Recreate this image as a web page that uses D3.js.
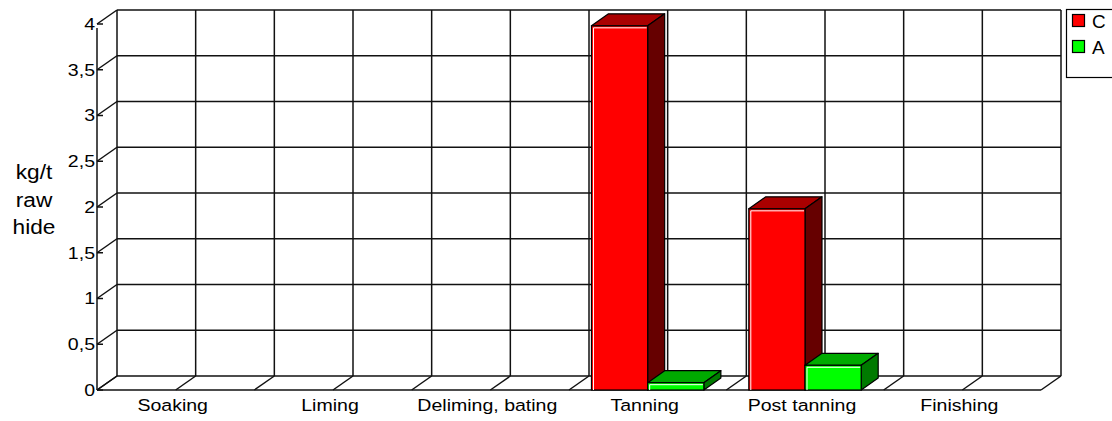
<!DOCTYPE html>
<html>
<head>
<meta charset="utf-8">
<script src="https://cdn.jsdelivr.net/npm/d3@7"></script>
<style>
  body { margin: 0; background: #fff; }
  svg { display: block; font-family: "Liberation Sans", Arial, sans-serif; }
</style>
</head>
<body>
<svg id="chart" width="1112" height="421"></svg>
<script>
// data
var categories = ["Soaking", "Liming", "Deliming, bating", "Tanning", "Post tanning", "Finishing"];
var seriesNames = ["C", "A"];
var valuesC = [0, 0, 0, 3.98, 1.98, 0];
var valuesA = [0, 0, 0, 0.08, 0.27, 0];
var yTicks = [0, 0.5, 1, 1.5, 2, 2.5, 3, 3.5, 4];
var axisTitle = ["kg/t", "raw", "hide"];

var colors = {
  C: { front: "#ff0000", top: "#aa0000", side: "#660000" },
  A: { front: "#00ff00", top: "#00aa00", side: "#007a00" }
};

var svg = d3.select("#chart");
var stretch = 1.15; // text in the picture is a bit wide

// floor depth and bar depth offsets
var depth = { dx: 20, dy: -14 };
var barDepth = { dx: 17, dy: -12 };

var x0 = d3.scaleBand().domain(categories).range([97, 1041]);
var x1 = d3.scaleBand().domain(seriesNames).range([0, x0.bandwidth()])
  .paddingInner(0).paddingOuter(0.4);
var y = d3.scaleLinear().domain([0, 4]).range([390, 24]);

var grid = svg.append("g").attr("stroke", "#111").attr("stroke-width", 1.5).attr("fill", "none");

// back wall horizontal gridlines
grid.selectAll(".hgrid")
  .data(yTicks)
  .enter()
  .append("line")
  .attr("x1", x0.range()[0] + depth.dx)
  .attr("x2", x0.range()[1] + depth.dx)
  .attr("y1", d => y(d) + depth.dy)
  .attr("y2", d => y(d) + depth.dy);

// left diagonals from the front axis to the wall
grid.selectAll(".ldiag")
  .data(yTicks)
  .enter()
  .append("line")
  .attr("x1", x0.range()[0])
  .attr("x2", x0.range()[0] + depth.dx)
  .attr("y1", d => y(d))
  .attr("y2", d => y(d) + depth.dy);

// vertical gridlines at every half category
var halfSteps = d3.range(0, categories.length * 2 + 1);
var halfX = i => x0.range()[0] + i * x0.bandwidth() / 2;
grid.selectAll(".vgrid")
  .data(halfSteps)
  .enter()
  .append("line")
  .attr("x1", i => halfX(i) + depth.dx)
  .attr("x2", i => halfX(i) + depth.dx)
  .attr("y1", y(0) + depth.dy)
  .attr("y2", y(4) + depth.dy);

// floor diagonals
grid.selectAll(".fdiag")
  .data(halfSteps)
  .enter()
  .append("line")
  .attr("x1", i => halfX(i))
  .attr("x2", i => halfX(i) + depth.dx)
  .attr("y1", y(0))
  .attr("y2", y(0) + depth.dy);

// front floor edge and front value axis
grid.append("line")
  .attr("x1", x0.range()[0]).attr("x2", x0.range()[1])
  .attr("y1", y(0)).attr("y2", y(0));
grid.append("line")
  .attr("x1", x0.range()[0]).attr("x2", x0.range()[0])
  .attr("y1", y(0)).attr("y2", y(4) + 4);

// tick dashes
grid.selectAll(".tick")
  .data(yTicks)
  .enter()
  .append("line")
  .attr("x1", x0.range()[0]).attr("x2", x0.range()[0] + 6)
  .attr("y1", d => y(d)).attr("y2", d => y(d));

// y tick labels
svg.append("g")
  .selectAll("text")
  .data(yTicks)
  .enter()
  .append("text")
  .attr("transform", d => `translate(95,${y(d)}) scale(${stretch},1)`)
  .attr("dy", "0.35em")
  .attr("text-anchor", "end")
  .style("font-size", "17px")
  .text(d => String(d).replace(".", ","));

// bars
function drawBar(g, xl, w, v, c) {
  var yt = y(v), yb = y(0);
  var dx = barDepth.dx, dy = barDepth.dy;
  // top
  g.append("path")
    .attr("d", `M${xl},${yt}L${xl + dx},${yt + dy}L${xl + w + dx},${yt + dy}L${xl + w},${yt}Z`)
    .attr("fill", c.top).attr("stroke", "#000").attr("stroke-width", 1.2).attr("stroke-linejoin", "round");
  // side
  g.append("path")
    .attr("d", `M${xl + w},${yt}L${xl + w + dx},${yt + dy}L${xl + w + dx},${yb + dy}L${xl + w},${yb}Z`)
    .attr("fill", c.side).attr("stroke", "#000").attr("stroke-width", 1.2).attr("stroke-linejoin", "round");
  // front
  g.append("rect")
    .attr("x", xl).attr("y", yt).attr("width", w).attr("height", yb - yt)
    .attr("fill", c.front).attr("stroke", "#000").attr("stroke-width", 1.2);
  if (yb - yt > 6) {
    g.append("path")
      .attr("d", `M${xl + 2},${yb}L${xl + 2},${yt + 2}L${xl + w - 1},${yt + 2}`)
      .attr("fill", "none").attr("stroke", "#fff").attr("stroke-width", 1);
  }
}

var bars = svg.append("g");
categories.forEach((cat, i) => {
  var vals = { C: valuesC[i], A: valuesA[i] };
  seriesNames.forEach(s => {
    if (vals[s] > 0) {
      drawBar(bars, x0(cat) + x1(s), x1.bandwidth(), vals[s], colors[s]);
    }
  });
});

// category labels
svg.append("g")
  .selectAll("text")
  .data(categories)
  .enter()
  .append("text")
  .attr("transform", d => `translate(${x0(d) + x0.bandwidth() / 2 - 3},411) scale(${stretch},1)`)
  .attr("text-anchor", "middle")
  .style("font-size", "17px")
  .text(d => d);

// axis title
svg.append("g")
  .selectAll("text")
  .data(axisTitle)
  .enter()
  .append("text")
  .attr("transform", (d, i) => `translate(34,${179 + i * 27.5}) scale(1.08,1)`)
  .attr("text-anchor", "middle")
  .style("font-size", "21px")
  .text(d => d);

// legend
var legend = svg.append("g");
legend.append("rect")
  .attr("x", 1066.5).attr("y", 9.5).attr("width", 60).attr("height", 68)
  .attr("fill", "#fff").attr("stroke", "#000").attr("stroke-width", 1.2);
seriesNames.forEach((s, i) => {
  legend.append("rect")
    .attr("x", 1072.5).attr("y", 14.5 + i * 26).attr("width", 12).attr("height", 12)
    .attr("fill", colors[s].front).attr("stroke", "#000").attr("stroke-width", 1.2);
  legend.append("text")
    .attr("transform", `translate(1092,${27.5 + i * 26}) scale(1.05,1)`)
    .style("font-size", "18px")
    .text(s);
});
</script>
</body>
</html>
